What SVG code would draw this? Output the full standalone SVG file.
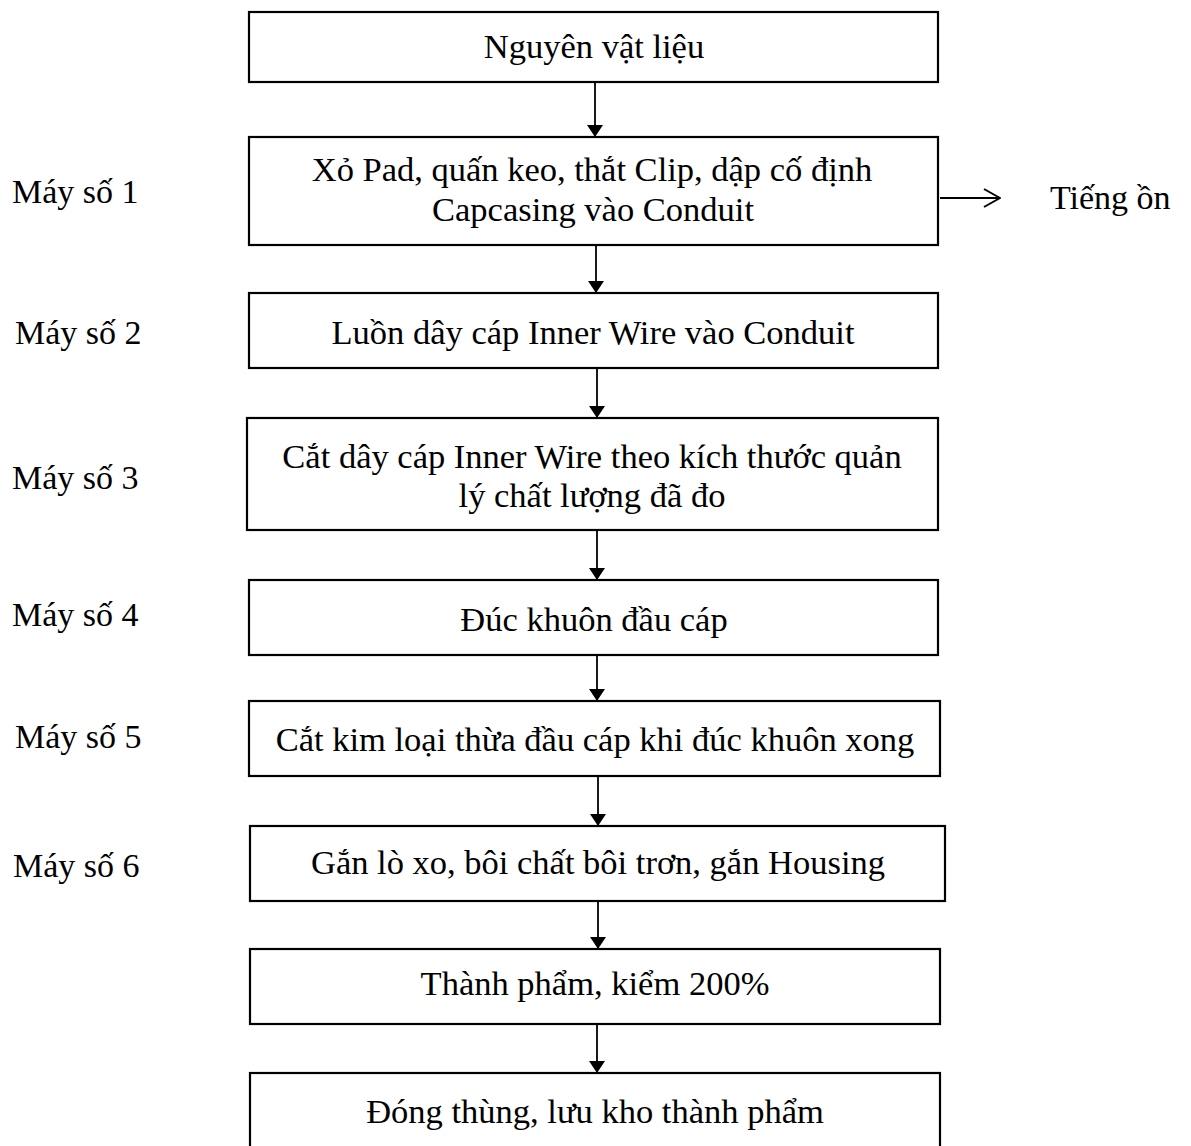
<svg xmlns="http://www.w3.org/2000/svg" width="1191" height="1146" viewBox="0 0 1191 1146">
  <style>
    .box { fill: #fff; stroke: #000; stroke-width: 2.2; }
    .t { font-family: "Liberation Serif", "Times New Roman", serif; font-size: 34.5px; fill: #000; }
    .lbl { font-size: 34px; }
    .c { text-anchor: middle; }
    .edge { stroke: #000; stroke-width: 1.8; fill: none; }
  </style>
  <defs>
    <marker id="tri" viewBox="0 0 12 16" refX="12" refY="8" markerWidth="12" markerHeight="16" markerUnits="userSpaceOnUse" orient="auto">
      <path d="M0,0 L12,8 L0,16 Z" fill="#000"/>
    </marker>
    <marker id="open" viewBox="0 0 18 20" refX="17" refY="10" markerWidth="18" markerHeight="20" markerUnits="userSpaceOnUse" orient="auto">
      <path d="M1,1 L17,10 L1,19" fill="none" stroke="#000" stroke-width="2"/>
    </marker>
  </defs>
  <rect width="1191" height="1146" fill="#fff"/>

  <g id="connectors">
    <line class="edge" x1="595" y1="82" x2="595" y2="137" marker-end="url(#tri)"/>
    <line class="edge" x1="596" y1="245" x2="596" y2="293" marker-end="url(#tri)"/>
    <line class="edge" x1="597" y1="368" x2="597" y2="418" marker-end="url(#tri)"/>
    <line class="edge" x1="597" y1="530" x2="597" y2="580" marker-end="url(#tri)"/>
    <line class="edge" x1="597" y1="655" x2="597" y2="701" marker-end="url(#tri)"/>
    <line class="edge" x1="598" y1="776" x2="598" y2="826" marker-end="url(#tri)"/>
    <line class="edge" x1="598" y1="901" x2="598" y2="949" marker-end="url(#tri)"/>
    <line class="edge" x1="597" y1="1024" x2="597" y2="1073" marker-end="url(#tri)"/>
    <line class="edge" x1="940" y1="198" x2="1000" y2="198" marker-end="url(#open)"/>
  </g>

  <g id="n1">
    <rect class="box" x="249" y="12" width="689" height="70"/>
    <text class="t c" x="594" y="58">Nguyên vật liệu</text>
  </g>
  <g id="n2">
    <rect class="box" x="249" y="137" width="689" height="108"/>
    <text class="t c" x="592" y="181">Xỏ Pad, quấn keo, thắt Clip, dập cố định</text>
    <text class="t c" x="593" y="221">Capcasing vào Conduit</text>
  </g>
  <g id="n3">
    <rect class="box" x="249" y="293" width="689" height="75"/>
    <text class="t c" x="593" y="344">Luồn dây cáp Inner Wire vào Conduit</text>
  </g>
  <g id="n4">
    <rect class="box" x="247" y="418" width="691" height="112"/>
    <text class="t c" x="592" y="468">Cắt dây cáp Inner Wire theo kích thước quản</text>
    <text class="t c" x="592" y="507">lý chất lượng đã đo</text>
  </g>
  <g id="n5">
    <rect class="box" x="249" y="580" width="689" height="75"/>
    <text class="t c" x="594" y="631">Đúc khuôn đầu cáp</text>
  </g>
  <g id="n6">
    <rect class="box" x="249" y="701" width="691" height="75"/>
    <text class="t c" x="595" y="751">Cắt kim loại thừa đầu cáp khi đúc khuôn xong</text>
  </g>
  <g id="n7">
    <rect class="box" x="250" y="826" width="695" height="75"/>
    <text class="t c" x="598" y="874">Gắn lò xo, bôi chất bôi trơn, gắn Housing</text>
  </g>
  <g id="n8">
    <rect class="box" x="250" y="949" width="690" height="75"/>
    <text class="t c" x="595" y="995">Thành phẩm, kiểm 200%</text>
  </g>
  <g id="n9">
    <rect class="box" x="250" y="1073" width="690" height="90"/>
    <text class="t c" x="595" y="1123">Đóng thùng, lưu kho thành phẩm</text>
  </g>

  <g id="labels">
    <text class="t lbl" x="12" y="203">Máy số 1</text>
    <text class="t lbl" x="15" y="344">Máy số 2</text>
    <text class="t lbl" x="12" y="489">Máy số 3</text>
    <text class="t lbl" x="12" y="626">Máy số 4</text>
    <text class="t lbl" x="15" y="748">Máy số 5</text>
    <text class="t lbl" x="13" y="877">Máy số 6</text>
    <text class="t lbl" x="1050" y="209">Tiếng ồn</text>
  </g>
</svg>
